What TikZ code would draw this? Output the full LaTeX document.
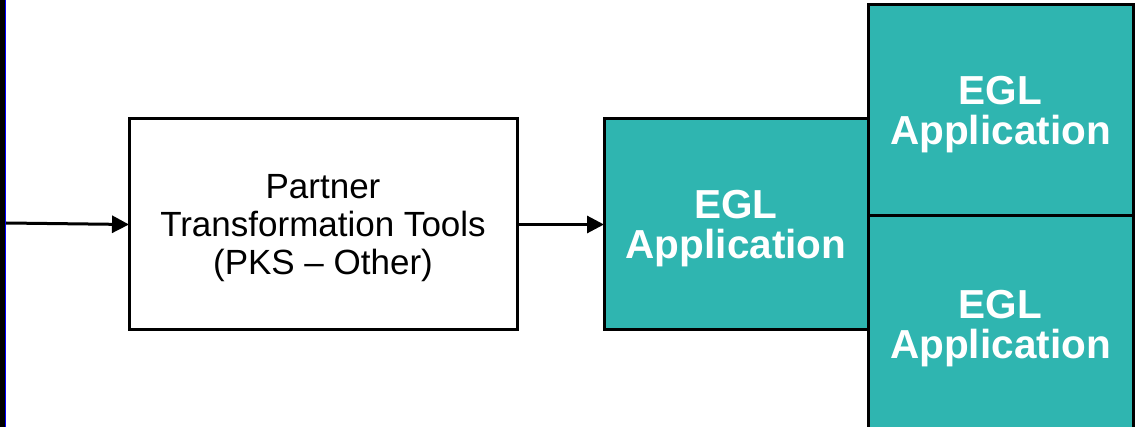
\documentclass[tikz,border=0pt]{standalone}
\usepackage{fontspec}
\setmainfont{Liberation Sans}
\usetikzlibrary{arrows.meta, positioning}
\definecolor{eglteal}{RGB}{47,181,176}
\begin{document}
\begin{tikzpicture}[x=0.5pt, y=-0.5pt,
    toolbox/.style={draw, line width=1.5pt, fill=white, outer sep=0pt, inner sep=0pt,
      minimum width=194pt, minimum height=105.5pt, align=center, text height=53.5pt,
      font=\fontsize{17.5}{19}\selectfont},
    appbox/.style={draw, line width=1.5pt, fill=eglteal, outer sep=0pt, inner sep=0pt,
      minimum width=132.5pt, minimum height=105.5pt, align=center, text=white,
      text height=38.5pt, font=\fontsize{20.25}{20}\selectfont\bfseries},
    flow/.style={line width=1.5pt, -{Triangle[length=8.5pt, width=8.5pt]}}]
  \useasboundingbox (0,0) rectangle (1136,427);

  % Left edge
  \draw[line width=2.5pt] (2.5,0) -- (2.5,427);
  \draw[blue, line width=0.5pt] (5.5,0) -- (5.5,427);
  \coordinate (src) at (6,223);

  % Boxes
  \node[toolbox] (tools) at (323,224.5) {Partner\\Transformation Tools\\(PKS – Other)};
  \node[appbox, minimum width=132pt] (app) at (736,224.5) {EGL\\Application};
  \node[appbox] (apptop) at (1000.5,110.5) {EGL\\Application};
  \node[appbox, below=0pt of apptop, minimum height=108pt] (appbot) {EGL\\Application};

  % Arrows
  \draw[flow] (src) -- (tools.west);
  \draw[flow] (tools.east) -- (app.west);
\end{tikzpicture}
\end{document}
